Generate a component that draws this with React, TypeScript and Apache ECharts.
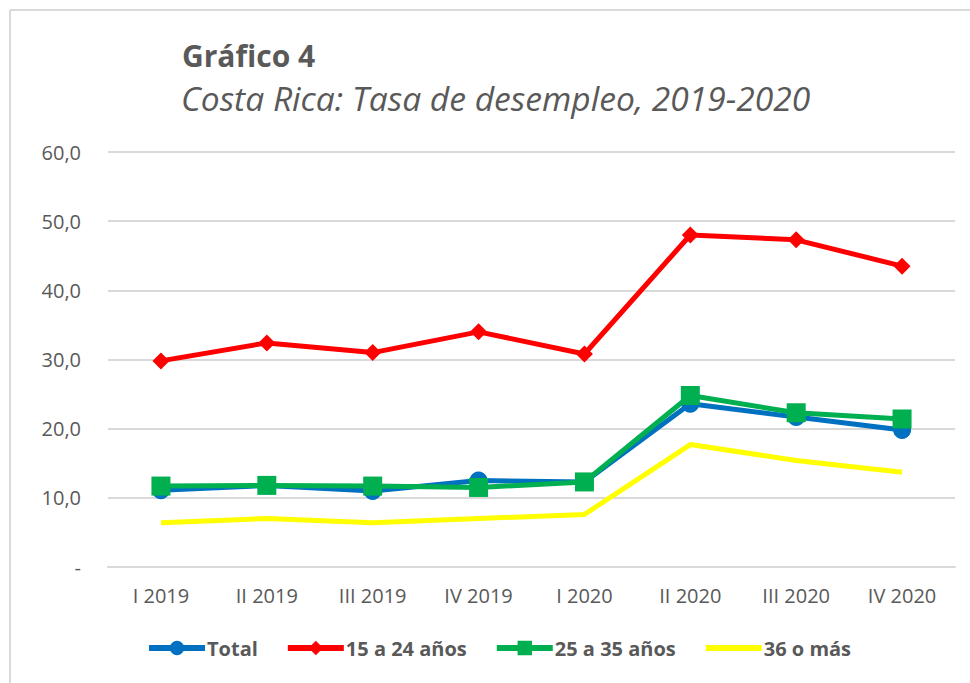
import React, { useEffect, useRef } from "react";
import * as echarts from "echarts";

const categories = ["I 2019", "II 2019", "III 2019", "IV 2019", "I 2020", "II 2020", "III 2020", "IV 2020"];
const total = [11.1, 11.8, 11.0, 12.5, 12.3, 23.6, 21.7, 19.8];
const jovenes = [29.8, 32.4, 31.0, 34.0, 30.8, 48.0, 47.3, 43.5];
const adultos = [11.7, 11.8, 11.7, 11.5, 12.3, 24.8, 22.3, 21.4];
const mayores = [6.4, 7.0, 6.4, 7.0, 7.6, 17.7, 15.4, 13.7];
const legendNames = ["Total", "15 a 24 años", "25 a 35 años", "36 o más"];

const FONT = "'Open Sans', Lato, sans-serif";
const GRAY = "#595959";

export default function App() {
  const ref = useRef<HTMLDivElement>(null);
  useEffect(() => {
    if (!ref.current) return;
    const chart = echarts.init(ref.current, undefined, { renderer: "svg" });
    const lineSeries = (name: string, data: number[], color: string, symbol: string, size: number) => ({
      name,
      type: "line",
      data,
      symbol,
      symbolSize: size,
      showSymbol: symbol !== "none",
      itemStyle: { color },
      lineStyle: { color, width: 5 },
      emphasis: { disabled: true },
    });
    chart.setOption({
      animation: false,
      backgroundColor: "#ffffff",
      textStyle: { fontFamily: FONT },
      graphic: [
        { type: "line", shape: { x1: 10, y1: 10, x2: 970, y2: 10 }, style: { stroke: "#d9d9d9", lineWidth: 2 } },
        { type: "line", shape: { x1: 10, y1: 10, x2: 10, y2: 683 }, style: { stroke: "#d9d9d9", lineWidth: 2 } },
        {
          type: "text",
          x: 182,
          y: 55,
          style: {
            text: "Gráfico 4",
            fontFamily: FONT,
            fontSize: 30,
            fontWeight: "bold",
            fill: GRAY,
            verticalAlign: "middle",
          },
        },
        {
          type: "text",
          x: 181,
          y: 98,
          style: {
            text: "Costa Rica: Tasa de desempleo, 2019-2020",
            fontFamily: FONT,
            fontSize: 33.6,
            fontStyle: "italic",
            fill: GRAY,
            verticalAlign: "middle",
          },
        },
      ],
      grid: { left: 108, right: 15, top: 152, bottom: 116, containLabel: false },
      legend: {
        left: 146,
        top: 638,
        padding: 0,
        itemWidth: 56,
        itemHeight: 18,
        itemGap: 27,
        lineStyle: { width: 6 },
        textStyle: { fontFamily: FONT, fontSize: 20, fontWeight: "bold", color: GRAY, padding: [0, 0, 0, -3] },
        data: legendNames.map((n, i) => (i === 3 ? { name: n, itemStyle: { opacity: 0 } } : { name: n })),
      },
      xAxis: {
        type: "category",
        data: categories,
        boundaryGap: true,
        axisLine: { show: true, lineStyle: { color: "#d9d9d9", width: 2 } },
        axisTick: { show: false },
        axisLabel: { color: GRAY, fontSize: 20, fontFamily: FONT, margin: 18 },
      },
      yAxis: {
        type: "value",
        min: 0,
        max: 60,
        interval: 10,
        axisLine: { show: false },
        axisTick: { show: false },
        splitLine: { lineStyle: { color: "#d9d9d9", width: 2 } },
        axisLabel: {
          color: GRAY,
          fontSize: 20,
          fontFamily: FONT,
          margin: 27,
          formatter: (v: number) => (v === 0 ? "-" : v.toFixed(1).replace(".", ",")),
        },
      },
      series: [
        lineSeries("Total", total, "#0070C0", "circle", 18),
        lineSeries("15 a 24 años", jovenes, "#FF0000", "diamond", 17),
        lineSeries("25 a 35 años", adultos, "#00B050", "rect", 19),
        lineSeries("36 o más", mayores, "#FFFF00", "none", 0),
      ],
    });
    return () => chart.dispose();
  }, []);
  return <div ref={ref} style={{ position: "absolute", left: 0, top: 0, width: 970, height: 683 }} />;
}
